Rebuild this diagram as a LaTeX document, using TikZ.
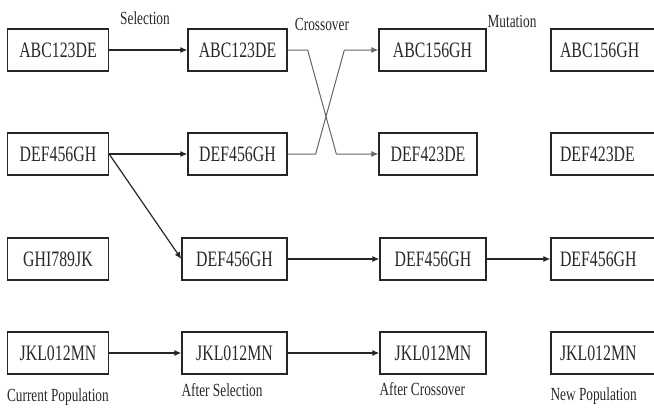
\documentclass[tikz,border=0pt]{standalone}
\usepackage{fontspec}
\setmainfont{Liberation Serif}[FakeStretch=0.72]
\usetikzlibrary{arrows.meta,calc,positioning}
\definecolor{gatext}{RGB}{40,40,40}

\begin{document}
\begin{tikzpicture}[x=1pt,y=-1pt,
        chrom/.style={draw=black!85,line width=1.3pt,minimum height=42pt,
          inner sep=0pt,text=gatext,font=\fontsize{22}{22}\selectfont},
        lbl/.style={inner sep=0pt,text=gatext,font=\fontsize{18.5}{18.5}\selectfont},
        flow/.style={-{Latex[length=7pt,width=6pt]},line width=1.2pt,black!85},
        swap/.style={-{Latex[length=7pt,width=6pt]},line width=1pt,black!60}]
        \clip (0,0) rectangle (654,410);

        % Current population.
        \node[chrom,minimum width=101pt] (pop1) at (58,50) {ABC123DE};
        \node[chrom,minimum width=101pt] (pop2) at (58,154) {DEF456GH};
        \node[chrom,minimum width=101pt] (pop3) at (58,259) {GHI789JK};
        \node[chrom,minimum width=101pt] (pop4) at (58,353) {JKL012MN};

        % After selection.
        \node[chrom,minimum width=99pt] (sel1) at (237.5,50) {ABC123DE};
        \node[chrom,minimum width=99pt] (sel2) at (237.5,154) {DEF456GH};
        \node[chrom,minimum width=105pt] (sel3) at (234.5,259) {DEF456GH};
        \node[chrom,minimum width=105pt] (sel4) at (234.5,353) {JKL012MN};

        % After crossover.
        \node[chrom,minimum width=107pt] (cross1) at (432.5,50) {ABC156GH};
        \node[chrom,minimum width=98pt] (cross2) at (428,154) {DEF423DE};
        \node[chrom,minimum width=106pt] (cross3) at (433,259) {DEF456GH};
        \node[chrom,minimum width=106pt] (cross4) at (433,353) {JKL012MN};

        % New population (cut off at the right edge).
        \node[chrom,minimum width=107pt] (new1) at (604.5,50) {};
        \node[chrom,minimum width=107pt] (new2) at (604.5,154) {};
        \node[chrom,minimum width=107pt] (new3) at (604.5,259) {};
        \node[chrom,minimum width=107pt] (new4) at (604.5,353) {};
        \node[chrom,draw=none,anchor=west] at ($(new1.west)+(9,0)$) {ABC156GH};
        \node[chrom,draw=none,anchor=west] at ($(new2.west)+(9,0)$) {DEF423DE};
        \node[chrom,draw=none,anchor=west] at ($(new3.west)+(9,0)$) {DEF456GH};
        \node[chrom,draw=none,anchor=west] at ($(new4.west)+(9,0)$) {JKL012MN};

        % Selection.
        \draw[flow] (pop1.east)--(sel1.west);
        \draw[flow] (pop2.east)--(sel2.west);
        \draw[flow] (pop2.east)--(sel3.west);
        \draw[flow] (pop4.east)--(sel4.west);

        % Crossover swaps the tails of the first two.
        \draw[swap] (sel1.east)--++(20,0)--($(cross2.west)+(-42,0)$)--(cross2.west);
        \draw[swap] (sel2.east)--++(28,0)--($(cross1.west)+(-34,0)$)--(cross1.west);
        \draw[flow] (sel3.east)--(cross3.west);
        \draw[flow] (sel4.east)--(cross4.west);

        % Mutation.
        \draw[flow] (cross3.east)--(new3.west);

        % Step and stage labels.
        \node[lbl,anchor=north] (sellbl) at (145,11) {Selection};
        \node[lbl,anchor=north] (crosslbl) at (322,18) {Crossover};
        \node[lbl,anchor=north] (mutlbl) at (512,15) {Mutation};
        \node[lbl,anchor=north west] (poplbl) at ([yshift=-14pt]pop4.south west)
          {Current Population};
        \node[lbl,anchor=north west] (afterselb) at ([yshift=-9pt]sel4.south west)
          {After Selection};
        \node[lbl,anchor=north west] (aftercrlb) at ([yshift=-8pt]cross4.south west)
          {After Crossover};
        \node[lbl,anchor=north west] (newlbl) at ([yshift=-13pt]new4.south west)
          {New Population};
      \end{tikzpicture}
\end{document}
